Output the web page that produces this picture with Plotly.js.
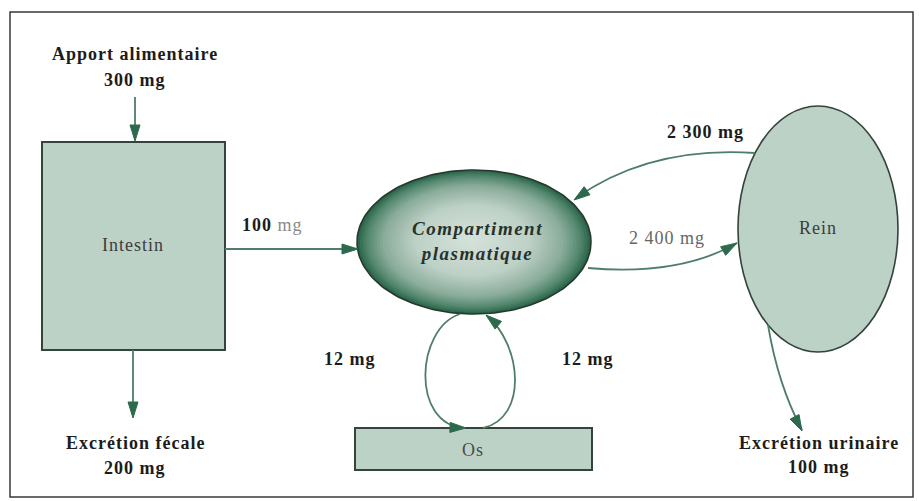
<!DOCTYPE html>
<html>
<head>
<meta charset="utf-8">
<script src="https://cdn.plot.ly/plotly-3.0.1.min.js"></script>
<style>html,body{margin:0;padding:0;background:#fff;}#chart{width:919px;height:501px;}</style>
</head>
<body>
<div id="chart"></div>
<script>
// ---- Data (calcium balance diagram) ----
const compartments = ['Intestin', 'Compartiment<br>plasmatique', 'Rein', 'Os'];
const flowNames = ['Apport alimentaire', 'Intestin → plasma', 'Excrétion fécale',
                   'Rein → plasma', 'Plasma → rein', 'Plasma → os', 'Os → plasma', 'Excrétion urinaire'];
const flowValues = [300, 100, 200, 2300, 2400, 12, 12, 100];
const unit = 'mg';

function fmt(v) {
  const s = String(v);
  return s.length > 3 ? s.slice(0, s.length - 3) + ' ' + s.slice(-3) : s;
}

// ---- Geometry (pixel layout of the diagram) ----
const W = 919, H = 501;
const lineCol = '#4f7d69', headCol = '#2d6a4d', edgeCol = '#33443c';
const boxFill = '#bdd2c7';
const serif = 'Liberation Serif, Times New Roman, serif';

const shapes = [];
const annotations = [];
const traces = [];

// frame
shapes.push({type: 'rect', x0: 10, y0: 12, x1: 913, y1: 497, line: {color: '#3a3a3a', width: 1.5}, fillcolor: 'rgba(0,0,0,0)', layer: 'below'});

// Intestin box
shapes.push({type: 'rect', x0: 42, y0: 142, x1: 225, y1: 350, line: {color: edgeCol, width: 2}, fillcolor: boxFill, layer: 'below'});
// Os box
shapes.push({type: 'rect', x0: 355, y0: 428, x1: 592, y1: 470, line: {color: edgeCol, width: 2}, fillcolor: boxFill, layer: 'below'});
// Rein ellipse
shapes.push({type: 'circle', x0: 738, y0: 106, x1: 898, y1: 352, line: {color: edgeCol, width: 1.6}, fillcolor: boxFill, layer: 'below'});

// plasma ellipse: concentric fills give a radial shading
const cx = 474, cy = 242, rx = 117, ry = 72;
const stops = [[0, [214, 227, 219]], [0.5, [190, 209, 199]], [0.78, [138, 172, 154]], [0.92, [84, 136, 110]], [1, [43, 102, 75]]];
function shade(r) {
  for (let i = 1; i < stops.length; i++) {
    if (r <= stops[i][0]) {
      const a = stops[i - 1], b = stops[i];
      const t = (r - a[0]) / (b[0] - a[0]);
      const c = a[1].map((v, j) => Math.round(v + (b[1][j] - v) * t));
      return `rgb(${c[0]},${c[1]},${c[2]})`;
    }
  }
  const c = stops[stops.length - 1][1];
  return `rgb(${c[0]},${c[1]},${c[2]})`;
}
const N = 40;
for (let k = 0; k < N; k++) {
  const s = 1 - k / N;
  const ex = [], ey = [];
  for (let i = 0; i <= 120; i++) {
    const a = i / 120 * 2 * Math.PI;
    ex.push(cx - 3 * (1 - s) + rx * s * Math.cos(a));
    ey.push(cy - 3 * (1 - s) + ry * s * Math.sin(a));
  }
  traces.push({x: ex, y: ey, type: 'scatter', mode: 'lines', fill: 'toself',
    fillcolor: shade(s), line: {width: 0, color: shade(s)}, hoverinfo: 'skip', showlegend: false});
}
// outline
(function () {
  const ex = [], ey = [];
  for (let i = 0; i <= 180; i++) {
    const a = i / 180 * 2 * Math.PI;
    ex.push(cx + rx * Math.cos(a)); ey.push(cy + ry * Math.sin(a));
  }
  traces.push({x: ex, y: ey, type: 'scatter', mode: 'lines', line: {color: '#27392f', width: 1.6},
    hoverinfo: 'skip', showlegend: false});
})();

// arrows: path + head
function head(tip, from, len, hw) {
  len = len || 16; hw = hw || 5;
  const dx = tip[0] - from[0], dy = tip[1] - from[1];
  const d = Math.hypot(dx, dy); const ux = dx / d, uy = dy / d;
  const bx = tip[0] - ux * len, by = tip[1] - uy * len;
  const px = -uy * hw, py = ux * hw;
  return {type: 'path', path: `M ${tip[0]} ${tip[1]} L ${bx + px} ${by + py} L ${bx - px} ${by - py} Z`,
          fillcolor: headCol, line: {color: headCol, width: 1}};
}
function arrow(path, tip, from) {
  shapes.push({type: 'path', path: path, line: {color: lineCol, width: 1.8}, fillcolor: 'rgba(0,0,0,0)'});
  shapes.push(head(tip, from));
}
arrow('M 135 97 L 135 134', [135, 141], [135, 97]);
arrow('M 225 249 L 350 249', [358, 249], [225, 249]);
arrow('M 133 350 L 133 410', [133, 418], [133, 350]);
arrow('M 755 153 Q 650 146 576 198', [574, 200], [650, 146]);
arrow('M 588 268 Q 680 276 737 243', [737, 243], [680, 276]);
arrow('M 460 314 C 416 328 410 425 465 428', [466, 428], [410, 426]);
arrow('M 483 428 C 528 418 522 345 487 316', [486, 315], [522, 345]);
arrow('M 768 325 Q 778 385 802 430', [802, 431], [778, 385]);

// ---- Text ----
function txt(x, y, text, opts) {
  opts = opts || {};
  const sp = opts.spacing === undefined ? 1 : opts.spacing;
  annotations.push({x: x, y: y, xref: 'x', yref: 'y',
    text: '<span style="letter-spacing:' + sp + 'px">' + text + '</span>', showarrow: false,
    font: {family: serif, size: opts.size || 18, color: opts.color || '#1c1c1c'},
    xanchor: 'center', yanchor: 'middle', align: 'center'});
}
const lbl = v => '<b>' + fmt(v) + ' ' + unit + '</b>';

txt(135, 54, '<b>' + flowNames[0] + '</b>');
txt(135, 80, lbl(flowValues[0]));
txt(133, 245, compartments[0], {color: '#3c3c3c'});
txt(272, 225, '<b>' + fmt(flowValues[1]) + '</b> <span style="color:#8a8a8a">' + unit + '</span>');
txt(135, 443, '<b>' + flowNames[2] + '</b>');
txt(135, 468, lbl(flowValues[2]));
txt(477, 241, '<b><i>' + compartments[1] + '</i></b>', {color: '#26322c', size: 19, spacing: 1.5});
txt(705, 132, lbl(flowValues[3]));
txt(667, 238, fmt(flowValues[4]) + ' ' + unit, {color: '#666'});
txt(818, 228, compartments[2], {color: '#3c3c3c'});
txt(350, 359, lbl(flowValues[5]));
txt(588, 359, lbl(flowValues[6]));
txt(473, 450, compartments[3], {color: '#4a4a4a'});
txt(819, 443, '<b>' + flowNames[7] + '</b>');
txt(819, 467, lbl(flowValues[7]));

const layout = {
  width: W, height: H, margin: {l: 0, r: 0, t: 0, b: 0},
  paper_bgcolor: '#ffffff', plot_bgcolor: '#ffffff',
  xaxis: {range: [0, W], visible: false, fixedrange: true},
  yaxis: {range: [H, 0], visible: false, fixedrange: true},
  shapes: shapes, annotations: annotations, showlegend: false
};
Plotly.newPlot('chart', traces, layout, {staticPlot: true, displayModeBar: false});
</script>
</body>
</html>
